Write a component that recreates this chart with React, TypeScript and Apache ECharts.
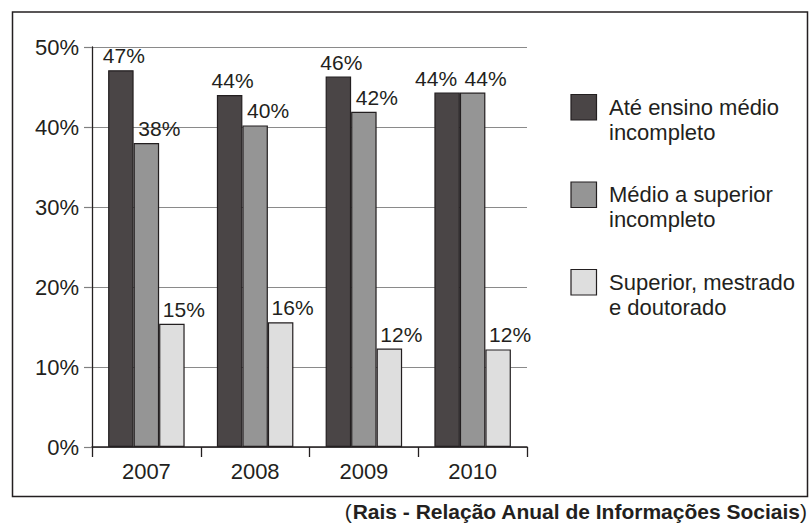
import React, { useEffect, useRef } from "react";
import * as echarts from "echarts";

const years = ["2007", "2008", "2009", "2010"];
const seriesNames = [
  "Até ensino médio\nincompleto",
  "Médio a superior\nincompleto",
  "Superior, mestrado\ne doutorado",
];
const ateMedio = [47.1, 44.0, 46.3, 44.3];
const medioSuperior = [38.0, 40.2, 41.9, 44.3];
const superiorPos = [15.4, 15.6, 12.3, 12.2];
const yTicks = { min: 0, max: 50, step: 10 };
const sourceText = "Rais - Relação Anual de Informações Sociais";

const FONT = "'Liberation Sans', Arial, Helvetica, sans-serif";
const INK = "#231f20";
const COLORS = ["#4a4546", "#959595", "#dedede"];
const LABEL_DX = [3, 13, 12];

export default function App() {
  const ref = useRef<HTMLDivElement>(null);
  useEffect(() => {
    if (!ref.current) return;
    const chart = echarts.init(ref.current, null, { renderer: "svg" });
    const all = [ateMedio, medioSuperior, superiorPos];

    const series = all.map((vals, si) => ({
      name: seriesNames[si],
      type: "bar",
      barWidth: 25.5,
      barGap: "0%",
      itemStyle: { color: COLORS[si], borderColor: INK, borderWidth: 1.2 },
      label: {
        show: true,
        position: "top",
        distance: 4,
        fontFamily: FONT,
        fontSize: 21,
        color: INK,
        formatter: (p: any) => Math.round(p.value) + "%",
      },
      data: vals.map((v, i) => {
        let dx = LABEL_DX[si];
        if (si === 0 && Math.abs(ateMedio[i] - medioSuperior[i]) < 1.5) dx = -11;
        return { value: v, label: { offset: [dx, 0] } };
      }),
    }));

    const legendGraphics: any[] = [];
    seriesNames.forEach((n, i) => {
      legendGraphics.push({
        type: "rect",
        shape: { x: 571, y: 94.5 + 87.5 * i, width: 25.5, height: 25.5 },
        style: { fill: COLORS[i], stroke: INK, lineWidth: 1.2 },
      });
      legendGraphics.push({
        type: "text",
        x: 609,
        y: 94.5 + 87.5 * i,
        style: {
          text: n,
          font: `22px ${FONT}`,
          fill: INK,
          lineHeight: 25,
          align: "left",
          verticalAlign: "top",
        },
      });
    });

    chart.setOption({
      animation: false,
      backgroundColor: "#ffffff",
      grid: { left: 92, right: 282, top: 47, bottom: 77 },
      xAxis: {
        type: "category",
        data: years,
        axisLine: { lineStyle: { color: INK, width: 1.5 } },
        axisTick: { show: true, length: 10, lineStyle: { color: INK, width: 1.3 } },
        axisLabel: { fontFamily: FONT, fontSize: 22, color: INK, margin: 13 },
      },
      yAxis: {
        type: "value",
        min: yTicks.min,
        max: yTicks.max,
        interval: yTicks.step,
        axisLine: { show: true, lineStyle: { color: INK, width: 1.3 } },
        axisTick: { show: true, length: 8, lineStyle: { color: "#808080", width: 1.2 } },
        splitLine: { lineStyle: { color: "#8a8a8a", width: 1.2 } },
        axisLabel: {
          fontFamily: FONT,
          fontSize: 22,
          color: INK,
          margin: 13,
          formatter: "{value}%",
        },
      },
      series,
      graphic: [
        {
          type: "rect",
          z: -1,
          shape: { x: 12.5, y: 12, width: 795, height: 484.5 },
          style: { fill: "none", stroke: INK, lineWidth: 1.5 },
        },
        ...legendGraphics,
        {
          type: "text",
          x: 807,
          y: 511,
          style: {
            text: `{n|(}{b|${sourceText}}{n|)}`,
            align: "right",
            verticalAlign: "middle",
            fill: INK,
            rich: {
              n: { fontFamily: FONT, fontSize: 21, fontWeight: "normal", fill: INK },
              b: { fontFamily: FONT, fontSize: 21, fontWeight: "bold", fill: INK },
            },
          },
        },
      ],
    });
    return () => chart.dispose();
  }, []);
  return (
    <div
      ref={ref}
      style={{ position: "fixed", left: 0, top: 0, width: 809, height: 524, background: "#fff" }}
    />
  );
}
